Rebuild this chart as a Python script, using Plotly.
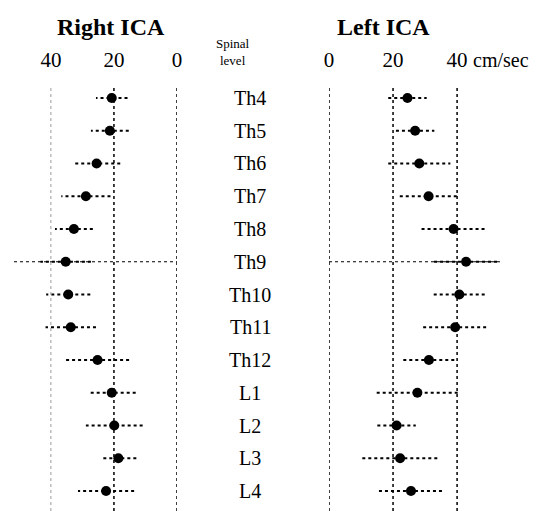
import plotly.graph_objects as go

levels = ["Th4", "Th5", "Th6", "Th7", "Th8", "Th9", "Th10", "Th11", "Th12", "L1", "L2", "L3", "L4"]
right_mean = [20.7, 21.3, 25.5, 28.9, 32.7, 35.3, 34.5, 33.7, 25.2, 20.7, 19.9, 18.6, 22.5]
right_err = [5.0, 6.0, 7.5, 7.8, 6.0, 8.0, 7.0, 8.0, 10.0, 7.6, 9.0, 5.7, 8.9]
left_mean = [24.5, 26.9, 28.2, 31.1, 38.9, 42.8, 40.7, 39.4, 31.2, 27.6, 21.1, 22.2, 25.6]
left_err = [6.0, 6.0, 9.7, 9.0, 10.0, 10.0, 8.0, 10.0, 8.0, 12.7, 6.0, 11.8, 10.0]
tick_vals = [0, 20, 40]
tick_text = ["0", "20", "40"]
ref_level = "Th9"

FONT = "Liberation Serif"
yidx = list(range(len(levels)))


def err_segments(means, errs):
    xs, ys = [], []
    for i, (m, e) in enumerate(zip(means, errs)):
        xs += [m - e, m + e, None]
        ys += [i, i, None]
    return xs, ys


fig = go.Figure()
for means, errs, xa, ya in [(right_mean, right_err, "x", "y"), (left_mean, left_err, "x2", "y2")]:
    ex, ey = err_segments(means, errs)
    fig.add_trace(go.Scatter(x=ex, y=ey, mode="lines", xaxis=xa, yaxis=ya,
                             line=dict(color="black", width=2, dash="dot"),
                             showlegend=False, hoverinfo="skip"))
    fig.add_trace(go.Scatter(x=means, y=yidx, mode="markers", xaxis=xa, yaxis=ya,
                             marker=dict(color="black", size=10),
                             showlegend=False))

yrange = [len(levels) - 1 + 0.61, -0.335]
common_x = dict(side="top", showgrid=False, zeroline=False, showline=False, ticks="",
                tickvals=tick_vals, ticktext=tick_text, ticklabelstandoff=15,
                automargin=False,
                tickfont=dict(family=FONT, size=21, color="black"), fixedrange=True)
common_y = dict(range=yrange, showgrid=False, zeroline=False, showline=False,
                showticklabels=False, ticks="", automargin=False, fixedrange=True)

fig.update_layout(
    width=550, height=511,
    margin=dict(l=0, r=0, t=87, b=0, autoexpand=False),
    paper_bgcolor="white", plot_bgcolor="white",
    xaxis=dict(domain=[14 / 550, 177 / 550], range=[51.7, 0], **common_x),
    xaxis2=dict(domain=[329 / 550, 500 / 550], range=[0, 53.4], anchor="y2", **common_x),
    yaxis=dict(domain=[0, 1], anchor="x", **common_y),
    yaxis2=dict(domain=[0, 1], anchor="x2", **common_y),
)

shapes = []
for xr, yr in [("x", "y domain"), ("x2", "y2 domain")]:
    for v in tick_vals:
        faint = (xr == "x" and v == 40)
        shapes.append(dict(type="line", xref=xr, yref=yr, x0=v, x1=v, y0=0, y1=1,
                           line=dict(color="#9a9a9a" if faint else "black",
                                     width=1 if faint else 1.5, dash="dot")))
ri = levels.index(ref_level)
for xr, yr in [("x domain", "y"), ("x2 domain", "y2")]:
    shapes.append(dict(type="line", xref=xr, yref=yr, x0=0, x1=1, y0=ri, y1=ri,
                       line=dict(color="black", width=1.2, dash="dot")))
fig.update_layout(shapes=shapes)

ann = []
for i, lab in enumerate(levels):
    ann.append(dict(text=lab, xref="paper", yref="y", x=250 / 550, y=i, showarrow=False,
                    xanchor="center", yanchor="middle",
                    font=dict(family=FONT, size=20, color="black")))
ann.append(dict(text="<b>Right ICA</b>", xref="paper", yref="paper", x=111 / 550, y=1,
                yshift=87 - 27, showarrow=False, xanchor="center", yanchor="middle",
                font=dict(family=FONT, size=24, color="black")))
ann.append(dict(text="<b>Left ICA</b>", xref="paper", yref="paper", x=383 / 550, y=1,
                yshift=87 - 27, showarrow=False, xanchor="center", yanchor="middle",
                font=dict(family=FONT, size=24, color="black")))
ann.append(dict(text="Spinal<br>level", xref="paper", yref="paper", x=233 / 550, y=1,
                yshift=87 - 52, showarrow=False, xanchor="center", yanchor="middle",
                font=dict(family=FONT, size=13, color="black")))
ann.append(dict(text="cm/sec", xref="x2", yref="paper", x=tick_vals[-1], y=1,
                xshift=14, yshift=87 - 60, showarrow=False, xanchor="left", yanchor="middle",
                font=dict(family=FONT, size=20, color="black")))
fig.update_layout(annotations=ann)

fig.write_html("out.html", config={"displayModeBar": False},
               post_script="document.body.style.margin='0';")
